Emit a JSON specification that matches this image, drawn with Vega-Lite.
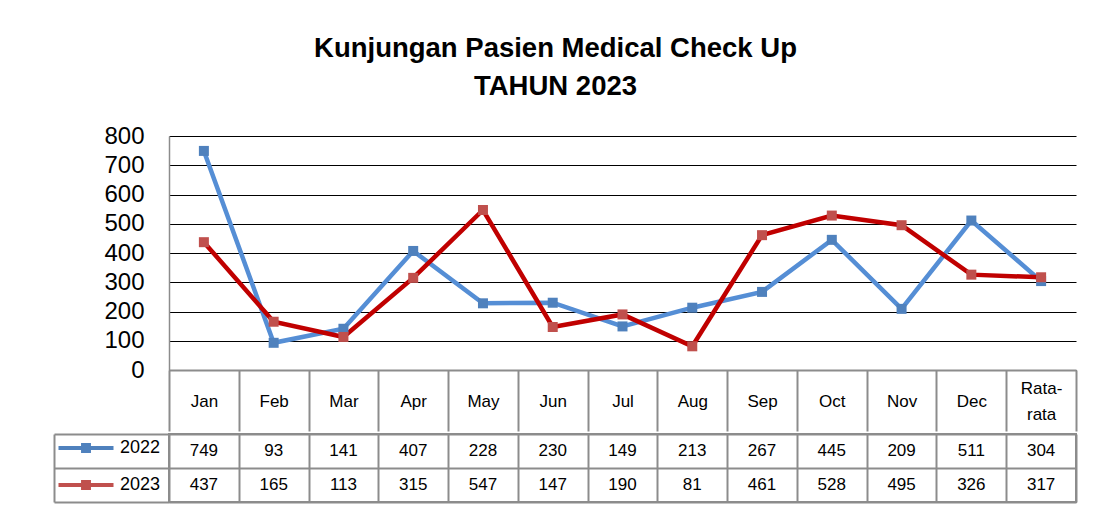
{
  "$schema": "https://vega.github.io/schema/vega-lite/v6.json",
  "background": "white",
  "padding": {"left": 52, "top": 34, "right": 5, "bottom": 5},
  "title": {
    "text": ["Kunjungan Pasien Medical Check Up", "TAHUN 2023"],
    "font": "Liberation Sans",
    "fontSize": 27.5,
    "fontWeight": "bold",
    "color": "#000000",
    "anchor": "middle",
    "lineHeight": 38,
    "offset": 24,
    "dx": -9
  },
  "data": {
    "values": [
      {"month": "Jan", "year": "2022", "value": 749},
      {"month": "Feb", "year": "2022", "value": 93},
      {"month": "Mar", "year": "2022", "value": 141},
      {"month": "Apr", "year": "2022", "value": 407},
      {"month": "May", "year": "2022", "value": 228},
      {"month": "Jun", "year": "2022", "value": 230},
      {"month": "Jul", "year": "2022", "value": 149},
      {"month": "Aug", "year": "2022", "value": 213},
      {"month": "Sep", "year": "2022", "value": 267},
      {"month": "Oct", "year": "2022", "value": 445},
      {"month": "Nov", "year": "2022", "value": 209},
      {"month": "Dec", "year": "2022", "value": 511},
      {"month": "Rata-rata", "year": "2022", "value": 304},
      {"month": "Jan", "year": "2023", "value": 437},
      {"month": "Feb", "year": "2023", "value": 165},
      {"month": "Mar", "year": "2023", "value": 113},
      {"month": "Apr", "year": "2023", "value": 315},
      {"month": "May", "year": "2023", "value": 547},
      {"month": "Jun", "year": "2023", "value": 147},
      {"month": "Jul", "year": "2023", "value": 190},
      {"month": "Aug", "year": "2023", "value": 81},
      {"month": "Sep", "year": "2023", "value": 461},
      {"month": "Oct", "year": "2023", "value": 528},
      {"month": "Nov", "year": "2023", "value": 495},
      {"month": "Dec", "year": "2023", "value": 326},
      {"month": "Rata-rata", "year": "2023", "value": 317}
    ]
  },
  "spacing": 0,
  "vconcat": [
    {
      "width": 907,
      "height": 234,
      "view": {"stroke": null},
      "encoding": {
        "x": {
          "field": "month", "type": "nominal", "sort": null,
          "scale": {"type": "band", "paddingInner": 0, "paddingOuter": 0},
          "axis": {
            "orient": "bottom", "tickBand": "extent",
            "ticks": true, "tickSize": 61, "tickColor": "#8c8c8c", "tickWidth": 2,
            "domain": true, "domainColor": "#8c8c8c", "domainWidth": 2,
            "labels": true, "labelAngle": 0, "labelFont": "Liberation Sans", "labelFontSize": 17,
            "labelColor": "#000000", "labelBaseline": "middle",
            "labelPadding": {"condition": {"test": "datum.value == 'Rata-rata'", "value": -43}, "value": -30},
            "labelLineHeight": 26,
            "labelExpr": "datum.label == 'Rata-rata' ? ['Rata-', 'rata'] : datum.label",
            "title": null
          }
        },
        "y": {
          "field": "value", "type": "quantitative",
          "scale": {"domain": [0, 800], "nice": false},
          "axis": {
            "values": [0, 100, 200, 300, 400, 500, 600, 700, 800],
            "labelOverlap": false,
            "grid": true, "gridColor": "#000000", "gridWidth": 1, "gridOpacity": 1,
            "domain": true, "domainColor": "#8c8c8c", "domainWidth": 1.5,
            "ticks": false, "labelFont": "Liberation Sans", "labelFontSize": 24,
            "labelColor": "#000000", "labelPadding": 25, "title": null
          }
        }
      },
      "layer": [
        {
          "mark": {"type": "line", "strokeWidth": 4.5},
          "encoding": {
            "color": {
              "field": "year", "type": "nominal",
              "scale": {"domain": ["2022", "2023"], "range": ["#558ED5", "#C00000"]},
              "legend": {
                "orient": "none", "legendX": -94, "legendY": 301, "direction": "vertical",
                "title": null,
                "symbolType": "M-2.5,-0.18H2.5V0.18H-2.5Z M-0.45,-0.45H0.45V0.45H-0.45Z",
                "symbolSize": 484, "symbolStrokeWidth": 0,
                "labelFont": "Liberation Sans", "labelFontSize": 18, "labelColor": "#000000",
                "labelOffset": 23, "rowPadding": 17,
                "encode": {"symbols": {"update": {"fill": {"scale": "color", "field": "value"}, "stroke": {"value": "transparent"}}}}
              }
            }
          }
        },
        {
          "mark": {"type": "point", "shape": "square", "filled": true, "size": 100, "opacity": 1},
          "encoding": {
            "fill": {
              "field": "year", "type": "nominal",
              "scale": {"domain": ["2022", "2023"], "range": ["#4F81BD", "#C0504D"]},
              "legend": null
            }
          }
        }
      ]
    },
    {
      "width": 907,
      "height": 68,
      "view": {"stroke": "#8c8c8c", "strokeWidth": 2},
      "mark": {"type": "text", "font": "Liberation Sans", "fontSize": 17, "baseline": "middle", "color": "#000000"},
      "encoding": {
        "x": {
          "field": "month", "type": "nominal", "sort": null,
          "scale": {"paddingInner": 0, "paddingOuter": 0},
          "axis": {
            "orient": "bottom", "tickBand": "extent", "grid": true, "gridColor": "#8c8c8c", "gridWidth": 2, "gridOpacity": 1,
            "labels": false, "ticks": false, "domain": false, "title": null
          }
        },
        "y": {
          "field": "year", "type": "nominal",
          "scale": {"domain": ["2022", "2023"], "paddingInner": 0, "paddingOuter": 0},
          "axis": {
            "orient": "left", "tickBand": "extent",
            "grid": true, "gridColor": "#8c8c8c", "gridWidth": 2, "gridOpacity": 1,
            "ticks": true, "tickSize": -115, "tickColor": "#8c8c8c", "tickWidth": 2,
            "labels": false, "offset": 115,
            "domain": true, "domainColor": "#8c8c8c", "domainWidth": 2, "title": null
          }
        },
        "text": {"field": "value", "type": "quantitative"}
      }
    }
  ]
}
